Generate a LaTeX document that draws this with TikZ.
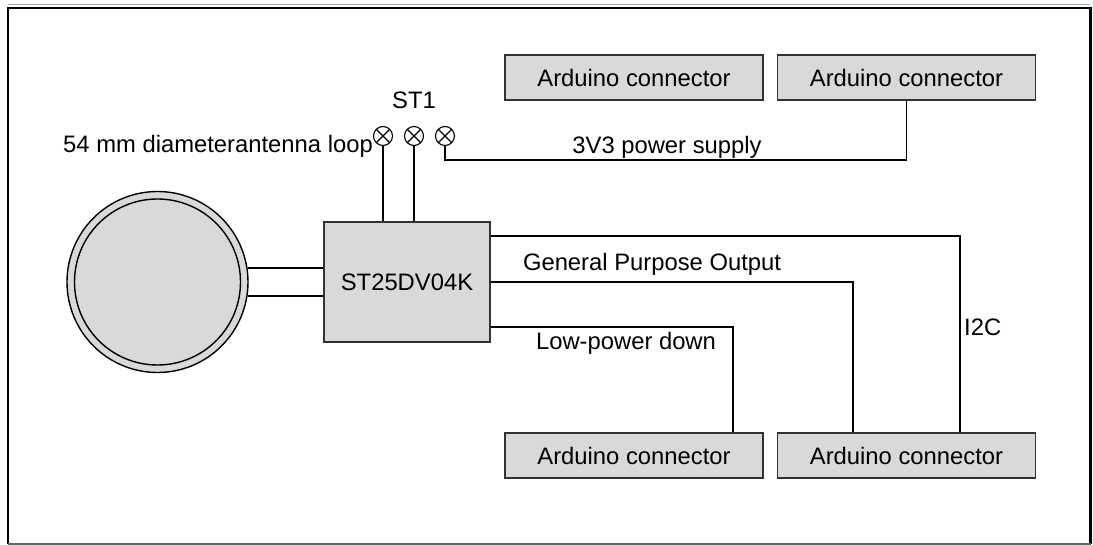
\documentclass[tikz,border=0pt]{standalone}
\usepackage{fontspec}
\setmainfont{Liberation Sans}
\begin{document}
\begin{tikzpicture}[x=1pt,y=-1pt,
  font=\fontsize{23.8}{28}\selectfont,
  wire/.style={line width=1.7pt, black},
  boxn/.style={draw=black!80, line width=1.3pt, fill=black!15, minimum width=258pt, minimum height=45pt, inner sep=0pt},
  xcirc/.style={draw, circle, line width=1.1pt, minimum size=19pt, inner sep=0pt,
     path picture={\draw[line width=1.1pt] (path picture bounding box.north west) -- (path picture bounding box.south east)
                   (path picture bounding box.north east) -- (path picture bounding box.south west);}},
  lbl/.style={inner sep=0pt, anchor=base}
]
\useasboundingbox (0,0) rectangle (1093,545);
% frame
\draw[black!35, line width=1pt] (8,4.5) -- (1090,4.5);
\draw[black, line width=2.6pt] (8,544) -- (8,8) -- (1090.5,8) -- (1090.5,544);
\draw[black!60, line width=1.3pt] (8,544) -- (1090.5,544);

% boxes
\node[boxn] (tb1) at (634,77.5) {Arduino connector};
\node[boxn] (tb2) at (906.5,77.5) {Arduino connector};
\node[boxn] (bb1) at (634,455.5) {Arduino connector};
\node[boxn] (bb2) at (906.5,455.5) {Arduino connector};
\node[boxn, minimum width=166pt, minimum height=120pt] (st) at (407,282) {ST25DV04K};

% antenna
\node[draw, circle, line width=1.4pt, fill=black!15, minimum size=181pt, inner sep=0pt] (ant) at (157.5,282) {};
\node[draw, circle, line width=1.4pt, minimum size=166pt, inner sep=0pt] (anti) at (157.5,282) {};
\draw[wire] (ant.9.54) -- (ant.9.54 -| st.west);
\draw[wire] (ant.-9.54) -- (ant.-9.54 -| st.west);

% ST1 terminals
\node[xcirc] (c1) at (383,136) {};
\node[xcirc] (c2) at (414,136) {};
\node[xcirc] (c3) at (445,136) {};
\node[lbl] (st1) at (414,109) {ST1};
\node[lbl, anchor=base east] (antl) at (373,153) {54 mm diameterantenna loop};

\draw[wire] (c1.south) -- (c1.south |- st.north);
\draw[wire] (c2.south) -- (c2.south |- st.north);
\draw[wire] (c3.south) -- (c3.south |- 0,160) -| (tb2.south);
\node[lbl] (v33) at (667,154) {3V3 power supply};

% outputs
\draw[wire] (st.east |- 0,236) -| (bb2.north -| 960,0);
\draw[wire] (st.east) -| (bb2.north -| 853,0);
\draw[wire] (st.east |- 0,327) -| (bb1.north -| 733,0);
\node[lbl] (gpo) at (652,271) {General Purpose Output};
\node[lbl] (lpd) at (626,350) {Low-power down};
\node[lbl, anchor=base west] (i2c) at (964,336) {I2C};
\end{tikzpicture}
\end{document}
